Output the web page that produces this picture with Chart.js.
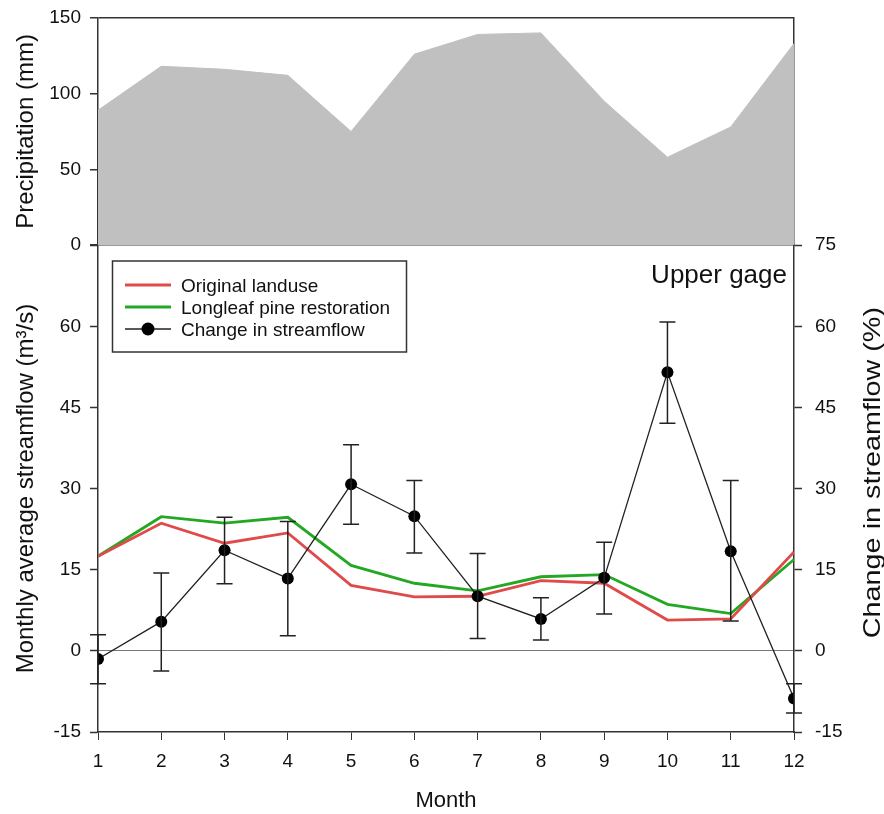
<!DOCTYPE html>
<html>
<head>
<meta charset="utf-8">
<title>Upper gage — streamflow change</title>
<script src="https://cdn.jsdelivr.net/npm/chart.js@4/dist/chart.umd.min.js"></script>
<style>
  html, body { margin: 0; padding: 0; background: #fff; }
  #wrap { width: 884px; height: 814px; }
</style>
</head>
<body>
<div id="wrap"><canvas id="chart" width="884" height="814"></canvas></div>
<script>
"use strict";

/* ---------- data ---------- */
const months = [1, 2, 3, 4, 5, 6, 7, 8, 9, 10, 11, 12];
const precip = [89, 118, 116, 112, 75, 126, 139, 140, 95, 58, 78, 133];
const originalLanduse = [17.5, 23.6, 19.9, 21.8, 12.1, 10.0, 10.1, 13.0, 12.5, 5.7, 5.9, 18.3];
const longleafPine = [17.5, 24.8, 23.6, 24.7, 15.8, 12.5, 11.1, 13.7, 14.1, 8.6, 6.9, 16.9];
const changePct = [-1.5, 5.4, 18.6, 13.4, 30.8, 24.9, 10.1, 5.9, 13.5, 51.5, 18.4, -8.8];
const changeHigh = [3.0, 14.4, 24.7, 23.9, 38.1, 31.5, 18.0, 9.8, 20.1, 60.8, 31.5, -6.1];
const changeLow = [-6.1, -3.7, 12.4, 2.8, 23.4, 18.1, 2.3, 2.0, 6.8, 42.1, 5.5, -11.5];
const precipTicks = [0, 50, 100, 150];
const flowTicks = [-15, 0, 15, 30, 45, 60, 75];

const FONT = "'Liberation Sans', Arial, sans-serif";
const INK = "#333";
const RED = "#e04a4a";
const GREEN = "#22a822";

Chart.defaults.font.family = FONT;
Chart.defaults.color = "#111";

/* ---------- helpers ---------- */
const pts = (ys) => months.map((m, i) => ({ x: m, y: ys[i] }));
const fixWidth = (w) => (scale) => { scale.width = w; };
const lineAt = (vals, color) => (ctx) =>
  ctx.tick && vals.includes(ctx.tick.value) ? color : "rgba(0,0,0,0)";
// small lineHeight keeps the top tick label from pushing the plot down
const tickFont = { size: 19, lineHeight: 0.5 };

/* ---------- plugins ---------- */
const errorBars = {
  id: "errorBars",
  afterDatasetsDraw(chart) {
    const { ctx, scales } = chart;
    const xs = scales.x, ys = scales.yC;
    ctx.save();
    ctx.strokeStyle = "#222";
    ctx.lineWidth = 1.5;
    months.forEach((m, i) => {
      const x = xs.getPixelForValue(m);
      const y1 = ys.getPixelForValue(changeHigh[i]);
      const y2 = ys.getPixelForValue(changeLow[i]);
      ctx.beginPath();
      ctx.moveTo(x, y1); ctx.lineTo(x, y2);
      ctx.moveTo(x - 8, y1); ctx.lineTo(x + 8, y1);
      ctx.moveTo(x - 8, y2); ctx.lineTo(x + 8, y2);
      ctx.stroke();
    });
    ctx.restore();
  },
};

const overlay = {
  id: "overlay",
  afterDraw(chart) {
    const { ctx, chartArea } = chart;
    ctx.save();

    // legend box
    const box = { x: 112.5, y: 261, w: 294, h: 91 };
    ctx.strokeStyle = INK;
    ctx.lineWidth = 1.5;
    ctx.strokeRect(box.x, box.y, box.w, box.h);
    const items = chart.data.datasets.filter((d) => d.inLegend);
    ctx.font = "19px " + FONT;
    ctx.textAlign = "left";
    ctx.textBaseline = "alphabetic";
    items.forEach((d, i) => {
      const base = 292 + i * 22;
      const ly = base - 7;
      ctx.strokeStyle = d.borderColor;
      ctx.lineWidth = d.borderWidth;
      ctx.beginPath();
      ctx.moveTo(125, ly); ctx.lineTo(171, ly);
      ctx.stroke();
      if (d.pointRadius) {
        ctx.fillStyle = d.pointBackgroundColor;
        ctx.beginPath();
        ctx.arc(148, ly, d.pointRadius + 0.5, 0, Math.PI * 2);
        ctx.fill();
      }
      ctx.fillStyle = "#111";
      ctx.fillText(d.label, 181, base);
    });

    // panel label
    ctx.font = "26px " + FONT;
    ctx.textAlign = "right";
    ctx.fillText("Upper gage", chartArea.right - 7, 283);

    // right axis title, reading bottom to top like the left ones
    const yC = chart.scales.yC;
    ctx.translate(873, (yC.top + yC.bottom) / 2 - 16);
    ctx.rotate(-Math.PI / 2);
    ctx.scale(1.2, 1);
    ctx.font = "24px " + FONT;
    ctx.textAlign = "center";
    ctx.textBaseline = "middle";
    ctx.fillText("Change in streamflow (%)", 0, 0);
    ctx.restore();
  },
};

/* ---------- chart ---------- */
new Chart(document.getElementById("chart"), {
  type: "line",
  data: {
    datasets: [
      {
        label: "Precipitation",
        data: pts(precip),
        yAxisID: "yP",
        fill: "origin",
        backgroundColor: "#c0c0c0",
        borderColor: "#c0c0c0",
        borderWidth: 1,
        pointRadius: 0,
        order: 3,
      },
      {
        label: "Original landuse",
        data: pts(originalLanduse),
        yAxisID: "yF",
        borderColor: RED,
        borderWidth: 2.8,
        pointRadius: 0,
        order: 1,
        inLegend: true,
      },
      {
        label: "Longleaf pine restoration",
        data: pts(longleafPine),
        yAxisID: "yF",
        borderColor: GREEN,
        borderWidth: 2.8,
        pointRadius: 0,
        order: 2,
        inLegend: true,
      },
      {
        label: "Change in streamflow",
        data: pts(changePct),
        yAxisID: "yC",
        borderColor: "#222",
        borderWidth: 1.3,
        pointRadius: 6,
        pointBorderWidth: 0,
        pointBackgroundColor: "#000",
        order: 0,
        inLegend: true,
      },
    ],
  },
  options: {
    responsive: false,
    animation: false,
    devicePixelRatio: 1,
    layout: { padding: { top: 16, left: 0, right: 0, bottom: 0 } },
    plugins: { legend: { display: false }, tooltip: { enabled: false } },
    elements: { line: { tension: 0 } },
    scales: {
      x: {
        type: "linear",
        min: 1, max: 12,
        afterFit: (s) => { s.height = 82; },
        ticks: { stepSize: 1, padding: 10, maxRotation: 0, font: { size: 19 }, color: "#111" },
        grid: { drawOnChartArea: false, tickLength: 8, tickColor: INK },
        border: { color: INK, width: 1.5 },
        title: { display: true, text: "Month", font: { size: 22 }, padding: { top: 0, bottom: 0 } },
      },
      yP: {
        type: "linear",
        position: "left",
        stack: "left",
        stackWeight: 228,
        weight: 2,
        z: 1,
        min: 0, max: 150,
        afterFit: fixWidth(98),
        afterBuildTicks: (s) => { s.ticks = precipTicks.map((v) => ({ value: v })); },
        ticks: { padding: 9, font: tickFont, color: "#111" },
        grid: { color: lineAt([0, 150], INK), lineWidth: 1.5, tickLength: 8, tickColor: INK, tickWidth: 1.5 },
        border: { color: INK, width: 1.5 },
        title: { display: true, text: "Precipitation (mm)", font: { size: 24 }, padding: { top: 12 } },
      },
      yF: {
        type: "linear",
        position: "left",
        stack: "left",
        stackWeight: 488,
        weight: 1,
        min: -15, max: 75,
        afterFit: fixWidth(98),
        afterBuildTicks: (s) => { s.ticks = flowTicks.map((v) => ({ value: v })); },
        ticks: { padding: 9, font: tickFont, color: "#111", callback: (v) => (v === 75 ? "" : v) },
        grid: {
          color: (ctx) => (ctx.tick && ctx.tick.value === 0 ? "#777" : "rgba(0,0,0,0)"),
          tickLength: 8, tickColor: INK, tickWidth: 1.5,
        },
        border: { color: INK, width: 1.5 },
        title: { display: true, text: "Monthly average streamflow (m³/s)", font: { size: 24 }, padding: { top: 12 } },
      },
      yPR: {
        type: "linear",
        position: "right",
        stack: "right",
        stackWeight: 228,
        weight: 1,
        min: 0, max: 150,
        afterFit: fixWidth(90),
        ticks: { display: false },
        grid: { drawOnChartArea: false, drawTicks: false },
        border: { color: INK, width: 1.5 },
      },
      yC: {
        type: "linear",
        position: "right",
        stack: "right",
        stackWeight: 488,
        weight: 2,
        min: -15, max: 75,
        afterFit: fixWidth(90),
        afterBuildTicks: (s) => { s.ticks = flowTicks.map((v) => ({ value: v })); },
        ticks: { padding: 13, font: tickFont, color: "#111" },
        grid: { drawOnChartArea: false, tickLength: 8, tickColor: INK, tickWidth: 1.5 },
        border: { color: INK, width: 1.5 },
      },
    },
  },
  plugins: [errorBars, overlay],
});
</script>
</body>
</html>
